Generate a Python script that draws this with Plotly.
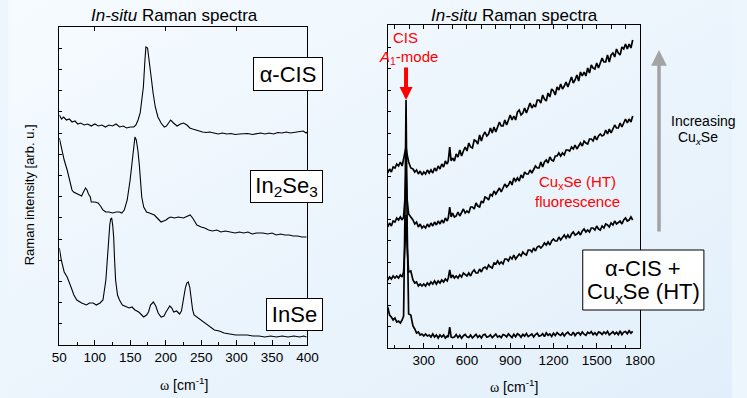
import base64
import plotly.graph_objects as go

# ---------------- data (left panel, arb. units) ----------------
x_cis = [50, 53, 56, 60, 64, 68, 72, 76, 80, 85, 90, 95, 100, 105, 110, 115, 120, 125, 130, 135,
         140, 145, 150, 155, 158, 161, 164, 166, 168.5, 170.7, 172.1, 174.4, 177.5, 180, 182.2,
         185.3, 189, 193.5, 198, 201, 204, 207, 211, 216, 221, 225, 230, 234, 238, 242, 247, 252,
         257, 262, 268, 274, 280, 286, 292, 298, 304, 310, 316, 322, 328, 334, 340, 346, 352, 358,
         364, 370, 376, 382, 388, 394, 398, 400]
y_cis = [230, 226, 228, 225, 226, 223, 224, 221, 222, 220, 221, 219, 221, 219, 220, 218, 220, 219,
         221, 218, 219, 217, 218, 218, 220, 225, 232, 245, 258, 285, 298, 297, 282, 265, 252, 238,
         228, 222, 218, 219, 222, 225, 222, 219, 221, 222, 220, 217, 216, 215, 214, 213, 212.5, 213,
         212, 211, 212, 211, 211.5, 210.5, 211, 211, 211.5, 210.5, 211, 212, 211, 212, 211, 212.5,
         212, 213, 212, 212.5, 213, 214, 212, 213]

x_in2se3 = [50, 56.8, 61, 64, 67.8, 70, 73.2, 77, 81.4, 84, 86.9, 89, 91, 93.7, 95, 100, 104.7, 108,
            111.5, 115.6, 120, 125, 130, 134.8, 138, 141.6, 145.7, 149.8, 152.5, 154.5, 156.6,
            158.5, 160.7, 162.8, 166.2, 169, 173, 177, 181, 184, 188, 193.5, 197, 200.4, 204,
            207.2, 212, 218, 225, 230, 234.5, 238, 244, 250, 255, 260.5, 266, 272, 278, 284, 292,
            298, 304, 310, 316, 322, 328, 337, 344, 350, 356, 362, 368, 374, 380, 386, 392, 398.6]
y_in2se3 = [207, 185, 175, 165, 155, 153, 152, 150, 149, 153, 157, 155, 151, 148, 143, 143, 142, 139,
            135, 133, 133, 132, 133, 133, 132, 135, 145, 165, 185, 200, 208, 205, 195, 180, 148, 138,
            133, 132, 131, 130, 127, 123, 124, 125, 127, 128, 127, 128, 127, 129, 130, 127, 120, 118,
            117, 115, 114, 115, 113, 114, 113, 112, 113, 112, 113, 111, 112, 112, 111, 112, 110, 111,
            110, 110, 109, 109, 108, 108]

x_inse = [50, 52.7, 56.8, 61, 66.4, 70.5, 74.6, 81.4, 88.3, 92.4, 97.8, 102, 107.4, 111.5, 115.6,
          117.7, 119.7, 121.1, 122.4, 123.8, 125.2, 126.6, 127.9, 129.3, 132, 134.8, 138.9, 143,
          148.4, 152.5, 156.6, 162, 168.9, 173, 175.8, 178.5, 182.6, 186, 189.4, 193.5, 197.6,
          200.4, 205.8, 208.6, 211.3, 215.4, 219.5, 222.2, 225, 227.7, 229.8, 231.8, 233.9, 235.9,
          238, 240, 244, 249.6, 255, 261.9, 268.7, 275.6, 282.4, 290.6, 298.8, 307, 315, 323,
          331.6, 339.8, 348, 356, 364.4, 372.6, 380.8, 389, 394.5, 398.6]
y_inse = [97, 85, 73, 68, 58, 50, 45, 42, 40, 42, 42, 40, 42, 45, 65, 90, 108, 120, 126, 127, 120,
          108, 85, 65, 50, 45, 40, 39, 37, 38, 35, 33, 28, 30, 33, 40, 43, 39, 32, 28, 29, 33, 39,
          37, 33, 34, 31, 34, 47, 57, 62, 63, 58, 45, 35, 30, 28, 25, 22, 19, 15, 14, 12, 11, 10,
          10, 10, 9, 9, 8, 9, 8, 9, 8, 9, 8, 9, 8]

# ---------------- data (right panel, arb. units) ----------------
x_right = [50, 62.5, 75, 87.5, 100, 112.5, 125, 137.5, 150, 160, 170, 177, 185, 195, 210,
           225, 237.5, 250, 262.5, 275, 287.5, 300, 312.5, 325, 337.5, 350, 362.5, 375, 387.5,
           400, 412.5, 425, 437.5, 450, 462.5, 470, 480, 490,
           500, 512.5, 525, 537.5, 550, 562.5, 575, 587.5, 600, 612.5, 625, 637.5, 650, 662.5,
           675, 687.5, 700, 712.5, 725, 737.5, 750, 762.5, 775, 787.5, 800, 812.5, 825, 837.5,
           850, 862.5, 875, 887.5, 900, 912.5, 925, 937.5, 950, 962.5, 975, 987.5, 1000, 1012.5,
           1025, 1037.5, 1050, 1062.5, 1075, 1087.5, 1100, 1112.5, 1125, 1137.5, 1150, 1162.5,
           1175, 1187.5, 1200, 1212.5, 1225, 1237.5, 1250, 1262.5, 1275, 1287.5, 1300, 1312.5,
           1325, 1337.5, 1350, 1362.5, 1375, 1387.5, 1400, 1412.5, 1425, 1437.5, 1450, 1462.5,
           1475, 1487.5, 1500, 1512.5, 1525, 1537.5, 1550, 1562.5, 1575, 1587.5, 1600, 1612.5,
           1625, 1637.5, 1650, 1662.5, 1675, 1687.5, 1700, 1712.5, 1725, 1737.5, 1750]
y_r1 = [175, 179, 176, 181, 180, 184, 182, 186, 182, 188, 196, 201, 193, 186, 180,
        179, 176, 178, 174, 177, 173, 176, 174, 178, 175, 178, 175, 180, 177,
        182, 179, 184, 181, 187, 184, 187, 201, 187,
        190, 187, 194, 191, 198, 192, 197, 201, 197, 205, 201, 200, 208, 207,
        204, 213, 207, 213, 216, 212, 214, 220, 215, 221, 216, 222, 226, 222,
        222, 228, 223, 228, 233, 228, 232, 228, 236, 238, 233, 235, 240, 235,
        241, 245, 240, 243, 241, 248, 248, 245, 253, 249, 247, 255,
        251, 259, 257, 253, 261, 258, 264, 259, 262, 266, 261, 267,
        271, 265, 268, 273, 267, 276, 272, 276, 272, 280, 275, 283,
        280, 279, 285, 280, 286, 290, 286, 286, 293, 286, 293, 295,
        291, 299, 295, 293, 301, 299, 304, 299, 304, 300, 308]
y_r2 = [121, 125, 122, 127, 126, 130, 128, 131, 128, 131, 150, 180, 148, 134, 131,
        128, 124, 126, 121, 124, 120, 122, 120, 124, 121, 125, 122, 126, 123,
        127, 124, 128, 125, 130, 127, 130, 141, 131,
        135, 131, 132, 136, 132, 136, 139, 135, 137, 135, 141, 141, 139, 145,
        142, 141, 147, 145, 151, 150, 148, 154, 152, 157, 154, 157, 160, 156,
        161, 164, 161, 163, 167, 163, 170, 167, 170, 167, 173, 170, 176, 174,
        174, 178, 175, 179, 182, 180, 180, 186, 181, 186, 188, 185,
        191, 188, 187, 192, 192, 195, 192, 195, 193, 198, 198, 197,
        201, 199, 203, 199, 202, 205, 202, 207, 205, 204, 209, 209,
        207, 212, 208, 212, 214, 212, 213, 218, 214, 219, 215, 220,
        223, 220, 220, 225, 221, 225, 229, 225, 229, 226, 232]
y_r3 = [68, 71, 69, 72, 70, 72, 70, 73, 71, 76, 105, 133, 100, 76, 77,
        68, 65, 66, 62, 64, 62, 64, 62, 65, 63, 66, 64, 67, 64,
        67, 65, 68, 66, 69, 67, 70, 78, 70,
        73, 70, 72, 70, 73, 71, 75, 73, 72, 75, 72, 76, 78, 75,
        75, 79, 76, 80, 81, 79, 83, 81, 80, 85, 84, 87, 84, 86,
        84, 89, 89, 87, 91, 89, 93, 89, 92, 94, 92, 96, 94, 93,
        98, 98, 96, 100, 97, 101, 102, 100, 102, 105, 103, 106,
        103, 107, 109, 107, 107, 111, 108, 110, 113, 110, 113, 110,
        114, 116, 113, 114, 116, 113, 117, 119, 116, 118, 116, 120,
        120, 118, 122, 119, 118, 122, 120, 124, 123, 121, 125, 123,
        127, 124, 126, 127, 124, 128, 130, 127, 128, 131, 128]
y_r4 = [41, 33, 31, 28, 30, 26, 27, 25, 28, 32, 140, 248, 120, 34, 33,
        22, 19, 15, 16, 13, 14, 12, 14, 12, 13, 11, 14, 11, 13,
        10, 13, 11, 13, 10, 12, 11, 21, 11,
        10.3, 10.9, 13.4, 10.4, 12.8, 9.8, 12.3, 13.5, 11.1, 10.5, 13.0, 10.0, 11.8, 13.6,
        10.7, 12.5, 10.1, 13.1, 13.8, 10.8, 11.4, 13.2, 10.3, 12.7, 13.9, 10.9, 12.2, 10.4,
        13.4, 12.8, 11.1, 14.1, 11.7, 10.5, 13.6, 11.2, 14.2, 13.0, 10.7, 13.7, 11.9, 14.4,
        11.4, 12.7, 14.0, 11.0, 13.5, 14.7, 11.8, 12.5, 14.3, 11.4, 15.1, 12.7,
        14.0, 11.6, 14.7, 12.4, 15.4, 13.7, 12.6, 15.0, 12.1, 14.5, 15.8, 13.4,
        12.9, 15.9, 12.4, 14.8, 15.5, 13.1, 16.1, 13.8, 12.6, 15.7, 14.5, 16.4,
        13.4, 15.2, 12.9, 15.9, 15.4, 13.6, 16.0, 14.3, 16.7, 13.2, 15.0, 16.2,
        13.9, 15.7, 13.4, 17.0, 13.4, 15.9, 16.5, 14.2, 17.2, 14.9, 16.7]

left_ticks = [50, 100, 150, 200, 250, 300, 350, 400]
right_ticks = [300, 600, 900, 1200, 1500, 1800]

W, H = 747, 398
def px(v):
    return v / W
def py(v):
    return 1 - v / H

FONT = "Liberation Sans, Arial, sans-serif"
BG = "#EDF6FD"

svg = ('<svg xmlns="http://www.w3.org/2000/svg" width="747" height="398">'
       '<defs><linearGradient id="g" x1="0" y1="0" x2="1" y2="1">'
       '<stop offset="0" stop-color="#F6FBFF"/><stop offset="1" stop-color="#E2EFFA"/>'
       '</linearGradient></defs><rect width="747" height="398" fill="url(#g)"/></svg>')
bg_src = "data:image/svg+xml;base64," + base64.b64encode(svg.encode()).decode()

fig = go.Figure()
for xs, ys in [(x_cis, y_cis), (x_in2se3, y_in2se3), (x_inse, y_inse)]:
    fig.add_trace(go.Scatter(x=xs, y=ys, mode="lines", line=dict(color="black", width=1.1),
                             xaxis="x", yaxis="y", showlegend=False, hoverinfo="skip"))
for ys in [y_r1, y_r2, y_r3, y_r4]:
    fig.add_trace(go.Scatter(x=x_right, y=ys, mode="lines", line=dict(color="black", width=1.7),
                             xaxis="x2", yaxis="y2", showlegend=False, hoverinfo="skip"))
fig.add_trace(go.Scatter(x=[], y=[], xaxis="x3", yaxis="y", showlegend=False))
fig.add_trace(go.Scatter(x=[], y=[], xaxis="x4", yaxis="y2", showlegend=False))

axis_common = dict(showgrid=False, zeroline=False, showline=True, linecolor="black", linewidth=1,
                   ticks="inside", tickcolor="black",
                   tickfont=dict(family=FONT, size=13.5, color="black"))

fig.update_layout(
    width=W, height=H,
    margin=dict(l=0, r=0, t=0, b=0),
    paper_bgcolor=BG, plot_bgcolor="rgba(0,0,0,0)",
    font=dict(family=FONT, color="black"),
    images=[dict(source=bg_src, xref="paper", yref="paper", x=0, y=1, sizex=1, sizey=1,
                 sizing="stretch", xanchor="left", yanchor="top", layer="below")],
    xaxis=dict(domain=[px(53), px(309)], range=[50, 400], anchor="y", tickmode="array",
               tickvals=left_ticks, ticklen=5, mirror=True,
               minor=dict(dtick=25, tick0=0, ticks="inside", ticklen=3, tickcolor="black"),
               **axis_common),
    yaxis=dict(domain=[py(345), py(27)], range=[0, 318], anchor="x", tick0=0, dtick=21.2,
               ticklen=3, showticklabels=False, mirror=True, **axis_common),
    xaxis2=dict(domain=[px(391.8), px(652)], range=[50, 1800], anchor="y2", tickmode="array",
                tickvals=right_ticks, ticklen=5, mirror=True,
                minor=dict(dtick=100, tick0=0, ticks="inside", ticklen=3, tickcolor="black"),
                **axis_common),
    yaxis2=dict(domain=[py(348), py(25)], range=[0, 323], anchor="x2", tick0=0, dtick=21.5,
                ticklen=3, showticklabels=False, mirror=True, **axis_common),
    xaxis3=dict(overlaying="x", side="top", anchor="y", range=[50, 400], tick0=0, dtick=100,
                ticks="inside", ticklen=4, tickcolor="black", showticklabels=False,
                showline=False, showgrid=False, zeroline=False),
    xaxis4=dict(overlaying="x2", side="top", anchor="y2", range=[50, 1800], tick0=0, dtick=100,
                ticks="inside", ticklen=4, tickcolor="black", showticklabels=False,
                showline=False, showgrid=False, zeroline=False),
)

ann = []
def text(x, y, s, size, color="black", xanchor="center", angle=0):
    ann.append(dict(x=px(x), y=py(y), xref="paper", yref="paper", text=s, showarrow=False,
                    xanchor=xanchor, yanchor="middle", textangle=angle,
                    font=dict(family=FONT, size=size, color=color)))

text(171.5, 16, "<i>In-situ</i> Raman spectra", 17)
text(522.5, 16, "<i>In-situ</i> Raman spectra", 17)
text(23, 195, "Raman intensity [arb. u.]", 13, angle=-90)
omega = '<span style="font-family:Liberation Serif, Times New Roman, serif">ω</span> [cm<sup>-1</sup>]'
text(182, 384, omega, 14)
text(522, 386, omega, 14)

def box(x0, y0, x1, y1, s, size):
    ann.append(dict(x=px(x0), y=py(y0), xref="paper", yref="paper", text=s, showarrow=False,
                    xanchor="left", yanchor="top", width=x1 - x0 - 2, height=y1 - y0 - 2,
                    align="center", valign="middle", bgcolor="white", bordercolor="black",
                    borderwidth=1, borderpad=0, font=dict(family=FONT, size=size, color="black")))

box(253, 57, 323, 91, "α-CIS", 22)
box(250, 170, 323, 203, "In<sub>2</sub>Se<sub>3</sub>", 22)
box(266, 298, 323, 331, "InSe", 22)

fig.add_shape(type="rect", xref="paper", yref="paper", x0=px(593), x1=px(718), y0=py(310),
              y1=py(250), fillcolor="white", line=dict(color="black", width=1), layer="above")
text(655.5, 268.5, "α-CIS +", 22)
text(655.5, 293, "Cu<sub>x</sub>Se (HT)", 22)

text(410.5, 38, "CIS", 15, color="red")
text(413, 57, "<i>A</i><sub>1</sub>-mode", 15, color="red")
text(588, 182, "Cu<sub>x</sub>Se (HT)", 15, color="red")
text(588, 201, "fluorescence", 15, color="red")

text(681.5, 121, "Increasing", 14, xanchor="left")
text(711.5, 138, "Cu<sub><i>x</i></sub>Se", 14)

ann.append(dict(x=x_right[11], y=y_r4[11], xref="x2", yref="y2", ax=0, ay=-34, axref="pixel",
                ayref="pixel", text="", showarrow=True, arrowhead=2, arrowsize=0.65, arrowwidth=4,
                arrowcolor="red", standoff=0))
ann.append(dict(x=px(671.7), y=py(50), xref="paper", yref="paper", ax=0, ay=183, text="",
                showarrow=True, arrowhead=2, arrowsize=0.9, arrowwidth=3.5, arrowcolor="#A3A3A3",
                standoff=0))

fig.update_layout(annotations=ann)
fig.write_html("out.html", config={"displayModeBar": False},
               post_script="document.body.style.margin='0px';document.body.style.overflow='hidden';")
